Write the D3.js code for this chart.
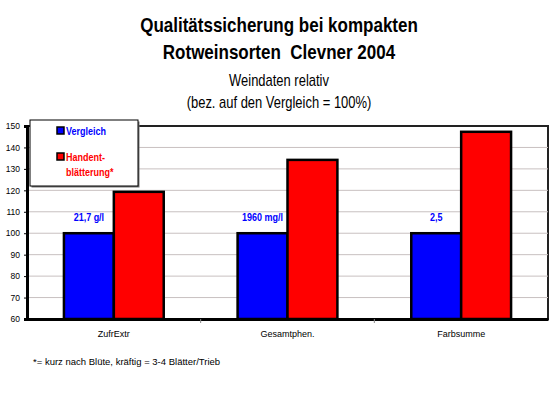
<!DOCTYPE html>
<html>
<head>
<meta charset="utf-8">
<script src="https://cdn.jsdelivr.net/npm/d3@7"></script>
<style>
  body { margin: 0; background: #fff; }
  text { font-family: "Liberation Sans", Arial, sans-serif; }
</style>
</head>
<body>
<div id="chart"></div>
<script>
var categories = ["ZufrExtr", "Gesamtphen.", "Farbsumme"];
var seriesNames = ["Vergleich", "Handentblätterung*"];
var vergleich = [100, 100, 100];
var handent = [119.3, 134.2, 147.3];
var absLabels = ["21,7 g/l", "1960 mg/l", "2,5"];
var yTicks = [60, 70, 80, 90, 100, 110, 120, 130, 140, 150];
var colors = ["#0000ff", "#ff0000"];

var width = 556, height = 394;
var margin = { top: 126, right: 8, bottom: 75, left: 27 };
var w = width - margin.left - margin.right;
var h = height - margin.top - margin.bottom;

var svg = d3.select("#chart").append("svg")
    .attr("width", width)
    .attr("height", height);

// titles (condensed like Arial Narrow)
var titles = [
  { t: "Qualitätssicherung bei kompakten", y: 32, size: 21, bold: true },
  { t: "Rotweinsorten  Clevner 2004", y: 59, size: 21, bold: true },
  { t: "Weindaten relativ", y: 86, size: 16, bold: false },
  { t: "(bez. auf den Vergleich = 100%)", y: 108, size: 16, bold: false }
];
svg.selectAll("text.title")
    .data(titles)
    .enter().append("text")
    .attr("class", "title")
    .attr("transform", function(d) { return "translate(279," + d.y + ") scale(0.81,1)"; })
    .attr("text-anchor", "middle")
    .style("font-size", function(d) { return d.size + "px"; })
    .style("font-weight", function(d) { return d.bold ? "bold" : "normal"; })
    .style("white-space", "pre")
    .text(function(d) { return d.t; });

var g = svg.append("g")
    .attr("transform", "translate(" + margin.left + "," + margin.top + ")");

var x0 = d3.scaleBand().domain(categories).range([0, w]).padding(0);
var x1 = d3.scaleBand().domain(seriesNames).range([0, x0.bandwidth()])
    .paddingInner(0).paddingOuter(0.74);
var y = d3.scaleLinear().domain([60, 150]).range([h, 0]);

// plot frame
g.append("rect")
    .attr("width", w).attr("height", h)
    .attr("fill", "#fff")
    .attr("stroke", "#222").attr("stroke-width", 2);

// gridlines
g.selectAll("line.grid")
    .data(yTicks.slice(1, -1))
    .enter().append("line")
    .attr("x1", 0).attr("x2", w)
    .attr("y1", function(d) { return y(d); })
    .attr("y2", function(d) { return y(d); })
    .attr("stroke", "#c8c0c0").attr("stroke-width", 1);

// bars
var rows = categories.map(function(c, i) {
  return { cat: c, vals: [vergleich[i], handent[i]], label: absLabels[i] };
});

var groups = g.selectAll("g.cat")
    .data(rows)
    .enter().append("g")
    .attr("transform", function(d) { return "translate(" + x0(d.cat) + ",0)"; });

groups.selectAll("rect")
    .data(function(d) { return d.vals.map(function(v, j) { return { s: seriesNames[j], v: v, j: j }; }); })
    .enter().append("rect")
    .attr("x", function(d) { return x1(d.s); })
    .attr("y", function(d) { return y(d.v); })
    .attr("width", x1.bandwidth())
    .attr("height", function(d) { return h - y(d.v); })
    .attr("fill", function(d) { return colors[d.j]; })
    .attr("stroke", "#000").attr("stroke-width", 2.5);

groups.append("text")
    .attr("transform", function(d) {
      return "translate(" + (x1(seriesNames[0]) + x1.bandwidth() / 2) + "," + (y(d.vals[0]) - 12) + ") scale(0.9,1)";
    })
    .attr("text-anchor", "middle")
    .attr("fill", "#0000ff")
    .style("font-size", "10px")
    .style("font-weight", "bold")
    .text(function(d) { return d.label; });

// axes
var yAxis = d3.axisLeft(y).tickValues(yTicks).tickSize(3).tickPadding(4);
var ya = g.append("g").call(yAxis);
ya.select(".domain").attr("stroke", "#000").attr("stroke-width", 3);
ya.selectAll("text").style("font-size", "8.5px").attr("fill", "#000");

var xAxis = d3.axisBottom(x0).tickSize(0).tickPadding(12);
var xa = g.append("g").attr("transform", "translate(0," + h + ")").call(xAxis);
xa.select(".domain").attr("stroke", "#000").attr("stroke-width", 3);
xa.selectAll("text").style("font-size", "9px").attr("fill", "#000");

// category boundary ticks
g.selectAll("line.ctick")
    .data(categories.slice(1))
    .enter().append("line")
    .attr("x1", function(d) { return x0(d); })
    .attr("x2", function(d) { return x0(d); })
    .attr("y1", h).attr("y2", h + 4)
    .attr("stroke", "#888");

// legend
var lg = svg.append("g").attr("transform", "translate(30,120)");
lg.append("rect").attr("x", 1.5).attr("y", 1.5).attr("width", 108).attr("height", 66).attr("fill", "#777");
lg.append("rect").attr("width", 108).attr("height", 66)
    .attr("fill", "#fff").attr("stroke", "#000").attr("stroke-width", 1);

var legendItems = [
  { c: colors[0], lines: ["Vergleich"], y: 7 },
  { c: colors[1], lines: ["Handent-", "blätterung*"], y: 33 }
];
legendItems.forEach(function(it) {
  lg.append("rect").attr("x", 27).attr("y", it.y).attr("width", 7).attr("height", 7)
    .attr("fill", it.c).attr("stroke", "#000").attr("stroke-width", 1.5);
  lg.selectAll(null).data(it.lines).enter().append("text")
    .attr("transform", function(d, k) { return "translate(36," + (it.y + 8 + k * 15) + ") scale(0.9,1)"; })
    .attr("fill", it.c)
    .style("font-size", "10px")
    .style("font-weight", "bold")
    .text(function(d) { return d; });
});

// footnote
svg.append("text")
    .attr("x", 33).attr("y", 365)
    .style("font-size", "9.5px")
    .text("*= kurz nach Blüte, kräftig = 3-4 Blätter/Trieb");
</script>
</body>
</html>
